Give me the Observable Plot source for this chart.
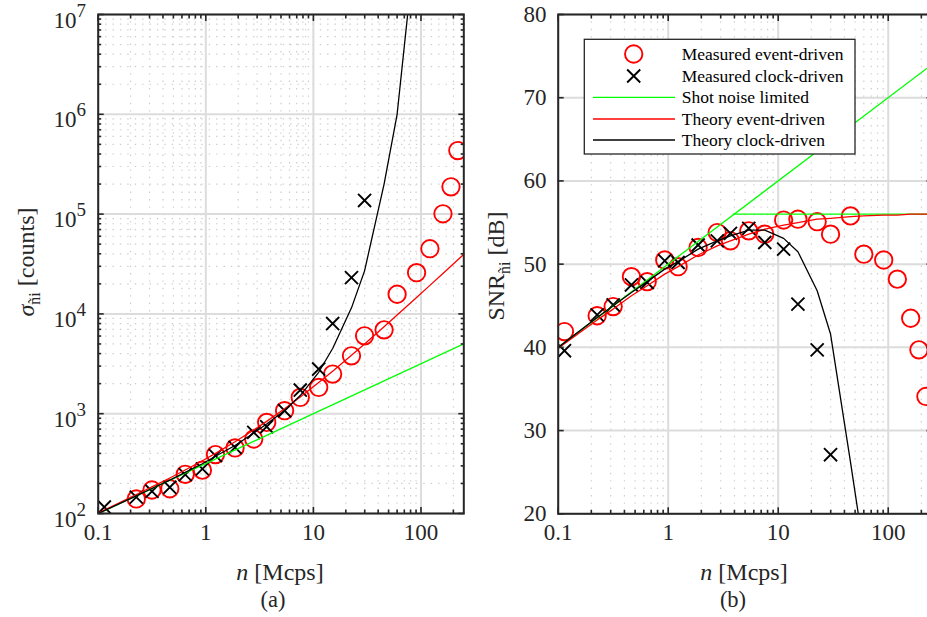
<!DOCTYPE html>
<html><head><meta charset="utf-8">
<script src="https://cdn.jsdelivr.net/npm/d3@7"></script>
<script src="https://cdn.jsdelivr.net/npm/@observablehq/plot@0.6"></script>
<style>
html,body{margin:0;padding:0;background:#fff;}
#fig{position:relative;width:927px;height:617px;overflow:hidden;background:#fff;}
#fig svg{position:absolute;top:0;}
</style></head><body><div id="fig"></div>
<script>
// ---------- data ----------
const nMeas = [0.114, 0.226, 0.316, 0.463, 0.644, 0.93, 1.23, 1.87, 2.79, 3.68, 5.4, 7.55, 11.2, 15.1, 22.6, 29.9, 45.4, 60, 91, 121, 160, 190, 220];
const sigmaEvent = [null, 140, 172, 177, 247, 272, 389, 454, 558, 818, 1072, 1455, 1833, 2495, 3802, 6026, 6918, 15740, 25900, 45000, 100700, 187600, 433000];
const snrEvent = [41.9, 43.8, 44.9, 48.5, 47.9, 50.5, 49.7, 52.0, 53.8, 52.8, 54.0, 53.6, 55.3, 55.4, 55.1, 53.6, 55.8, 51.2, 50.5, 48.2, 43.5, 39.7, 34.1];
const nClock = [0.114, 0.226, 0.316, 0.463, 0.644, 0.93, 1.23, 1.87, 2.79, 3.68, 5.4, 7.55, 11.2, 15.1, 22.6, 29.9];
const sigmaClock = [116, 146, 167, 183, 245, 280, 380, 460, 650, 741, 1072, 1726, 2800, 8000, 23080, 137000];
const snrClock = [39.6, 43.9, 45.1, 47.5, 47.8, 50.4, 50.2, 52.3, 52.8, 53.7, 54.3, 52.6, 51.8, 45.2, 39.7, 27.1];

const nTheory = [0.1, 0.226, 0.316, 0.463, 0.644, 0.93, 1.23, 1.87, 2.79, 3.68, 5.4, 7.55, 11.2, 15.1, 22.6, 29.9, 45.4, 60, 91, 121, 160, 250];
const sigmaTheoryEvent = [101, 155, 185, 227, 273, 338, 400, 523, 686, 838, 1122, 1470, 2052, 2670, 3854, 5003, 7440, 9733, 14600, 19310, 25440, 39570];
const snrTheoryEvent = [39.9, 43.3, 44.6, 46.2, 47.4, 48.8, 49.7, 51.1, 52.2, 52.8, 53.6, 54.2, 54.7, 55.0, 55.4, 55.5, 55.7, 55.8, 55.9, 55.9, 56.0, 56.0];
const nTheoryClock = [0.1, 0.226, 0.316, 0.463, 0.644, 0.93, 1.23, 1.87, 2.79, 3.68, 5.4, 7.55, 11.2, 15.1, 22.6, 29.9, 45.4, 60, 91];
const sigmaTheoryClock = [100, 150, 178, 216, 258, 315, 375, 480, 640, 790, 1075, 1520, 2600, 4500, 11500, 27000, 200000, 1000000, 70000000];
const snrTheoryClock = [40.0, 43.6, 45.0, 46.6, 47.9, 49.4, 50.3, 51.8, 52.8, 53.4, 54.1, 54.1, 53.1, 51.5, 46.8, 41.6, 26.2, 15.6, 5.0];

const nShot = [0.1, 250];
const sigmaShot = [100, 5000];
const snrShot = [40, 74];
const nShotLimit = [3.9, 250];
const snrShotLimit = [56.0, 56.0];

const xMajor = [0.1, 1, 10, 100];
const xTickLabels = ["0.1", "1", "10", "100"];
const xMinor = [0.2,0.3,0.4,0.5,0.6,0.7,0.8,0.9, 2,3,4,5,6,7,8,9, 20,30,40,50,60,70,80,90, 200];
const yMajorA = [1e2, 1e3, 1e4, 1e5, 1e6, 1e7];
const yExpA = ["2", "3", "4", "5", "6", "7"];
const yMinorA = [1e2, 1e3, 1e4, 1e5, 1e6].flatMap(d => [2,3,4,5,6,7,8,9].map(k => k * d));
const yTicksB = [20, 30, 40, 50, 60, 70, 80];

const legendLabels = ["Measured event-driven", "Measured clock-driven", "Shot noise limited", "Theory event-driven", "Theory clock-driven"];

// ---------- tables ----------
const evA = nMeas.map((n, i) => ({n, v: sigmaEvent[i]})).filter(d => d.v != null);
const ckA = nClock.map((n, i) => ({n, v: sigmaClock[i]}));
const evB = nMeas.map((n, i) => ({n, v: snrEvent[i]}));
const ckB = nClock.map((n, i) => ({n, v: snrClock[i]}));
const thEvA = nTheory.map((n, i) => ({n, v: sigmaTheoryEvent[i]}));
const thEvB = nTheory.map((n, i) => ({n, v: snrTheoryEvent[i]}));
const thCkA = nTheoryClock.map((n, i) => ({n, v: sigmaTheoryClock[i]}));
const thCkB = nTheoryClock.map((n, i) => ({n, v: snrTheoryClock[i]}));
const shotA = nShot.map((n, i) => ({n, v: sigmaShot[i]}));
const shotB = nShot.map((n, i) => ({n, v: snrShot[i]}));
const shotLimB = nShotLimit.map((n, i) => ({n, v: snrShotLimit[i]}));

const FONT = "Liberation Serif, Times New Roman, serif";
const AX = "#262626";
const RED = "#ff0000", GREEN = "#00ff00";

function commonMarks(yMinor, yMajor) {
  const m = [];
  m.push(Plot.ruleX(xMinor, {x: d => d, stroke: "#cdcdcd", strokeWidth: 1.2, strokeDasharray: "1.4,6"}));
  if (yMinor) m.push(Plot.ruleY(yMinor, {y: d => d, stroke: "#cdcdcd", strokeWidth: 1.2, strokeDasharray: "1.4,6"}));
  m.push(Plot.ruleX(xMajor, {x: d => d, stroke: "#dcdcdc", strokeWidth: 2}));
  m.push(Plot.ruleY(yMajor, {y: d => d, stroke: "#dcdcdc", strokeWidth: 2}));
  return m;
}
function tickMarks(yMinor, yMajor) {
  const s = {stroke: AX, strokeWidth: 1.6, fill: "none", label: null};
  const m = [
    Plot.axisX(xMajor, {...s, anchor: "bottom", tickSize: 6, dy: -6}),
    Plot.axisX(xMinor, {...s, anchor: "bottom", tickSize: 3.5, dy: -3.5}),
    Plot.axisX(xMajor, {...s, anchor: "top", tickSize: 6, dy: 6}),
    Plot.axisX(xMinor, {...s, anchor: "top", tickSize: 3.5, dy: 3.5}),
    Plot.axisY(yMajor, {...s, anchor: "left", tickSize: 6, dx: 6}),
    Plot.axisY(yMajor, {...s, anchor: "right", tickSize: 6, dx: -6})
  ];
  if (yMinor) {
    m.push(Plot.axisY(yMinor, {...s, anchor: "left", tickSize: 3.5, dx: 3.5}));
    m.push(Plot.axisY(yMinor, {...s, anchor: "right", tickSize: 3.5, dx: -3.5}));
  }
  return m;
}
function dataMarks(ev, ck, shot, shotLim, thEv, thCk) {
  const m = [
    Plot.dot(ev, {x: "n", y: "v", r: 8.7, stroke: RED, strokeWidth: 1.9, fill: "none", clip: true}),
    Plot.dot(ck, {x: "n", y: "v", symbol: "times", r: 6, stroke: "#000", strokeWidth: 1.9, clip: true}),
    Plot.line(shot, {x: "n", y: "v", stroke: GREEN, strokeWidth: 1.3, clip: true})
  ];
  if (shotLim) m.push(Plot.line(shotLim, {x: "n", y: "v", stroke: GREEN, strokeWidth: 1.3, clip: true}));
  m.push(Plot.line(thEv, {x: "n", y: "v", stroke: RED, strokeWidth: 1.3, clip: true}));
  m.push(Plot.line(thCk, {x: "n", y: "v", stroke: "#000", strokeWidth: 1.3, clip: true}));
  return m;
}
const xLabels = Plot.text(xMajor, {x: d => d, text: (d, i) => xTickLabels[i], frameAnchor: "bottom", dy: 26.5, fontSize: 23, fontFamily: FONT, fill: AX});

// ---------- panel (a) ----------
const plotA = Plot.plot({
  width: 470, height: 617,
  marginLeft: 97.7, marginRight: 6.7, marginTop: 14, marginBottom: 104,
  x: {type: "log", domain: [0.1, 250]},
  y: {type: "log", domain: [100, 1e7]},
  style: {background: "transparent", fontFamily: FONT},
  marks: [
    ...commonMarks(yMinorA, yMajorA),
    ...dataMarks(evA, ckA, shotA, null, thEvA, thCkA),
    ...tickMarks(yMinorA, yMajorA),
    Plot.frame({stroke: AX, strokeWidth: 2}),
    xLabels
  ]
});

// ---------- panel (b) ----------
const plotB = Plot.plot({
  width: 480, height: 617,
  marginLeft: 97.7, marginRight: 8.5, marginTop: 14, marginBottom: 103.7,
  x: {type: "log", domain: [0.1, 250]},
  y: {domain: [20, 80]},
  style: {background: "transparent", fontFamily: FONT},
  marks: [
    ...commonMarks(null, yTicksB),
    ...dataMarks(evB, ckB, shotB, shotLimB, thEvB, thCkB),
    ...tickMarks(null, yTicksB),
    Plot.frame({stroke: AX, strokeWidth: 2}),
    xLabels,
    Plot.text(yTicksB, {y: d => d, text: d => String(d), frameAnchor: "left", dx: -11.7, textAnchor: "end", fontSize: 23, fontFamily: FONT, fill: AX})
  ]
});

const fig = document.getElementById("fig");
plotA.style.left = "0px";
plotB.style.left = "460px";
fig.appendChild(plotA);
fig.appendChild(plotB);

// y tick labels with superscripts on panel (a)
const yA = plotA.scale("y");
const gA = d3.select(plotA).append("g").attr("font-family", FONT).attr("fill", AX);
yMajorA.forEach((v, i) => {
  const t = gA.append("text").attr("x", 86).attr("y", yA.apply(v) + 13.5).attr("text-anchor", "end").attr("font-size", 23);
  t.append("tspan").text("10");
  t.append("tspan").attr("font-size", 19).attr("dy", -11).text(yExpA[i]);
});

function axisTitles(svg, cx, ylabX, ylabY, main, unit, mainItalic) {
  const g = d3.select(svg).append("g").attr("font-family", FONT).attr("fill", AX);
  const t = g.append("text").attr("x", cx).attr("y", 580).attr("text-anchor", "middle").attr("font-size", 24);
  t.append("tspan").attr("font-style", "italic").text("n");
  t.append("tspan").text(" [Mcps]");
  const yl = g.append("text").attr("transform", `translate(${ylabX},${ylabY}) rotate(-90)`).attr("text-anchor", "middle").attr("font-size", 24);
  yl.append("tspan").attr("font-style", mainItalic ? "italic" : "normal").text(main);
  yl.append("tspan").attr("font-size", 16).attr("dy", 6).text("ñi");
  yl.append("tspan").attr("dy", -6).text(" " + unit);
  return g;
}
const gTa = axisTitles(plotA, 280, 34, 262, "σ", "[counts]", true);
gTa.append("text").attr("x", 273).attr("y", 607).attr("text-anchor", "middle").attr("font-size", 22.5).text("(a)");
const gTb = axisTitles(plotB, 284, 44, 266, "SNR", "[dB]", false);
gTb.append("text").attr("x", 273).attr("y", 607).attr("text-anchor", "middle").attr("font-size", 22.5).text("(b)");

// legend on panel (b)
const lg = d3.select(plotB).append("g").attr("font-family", FONT).attr("text-anchor", "start");
lg.append("rect").attr("x", 124.3).attr("y", 39.3).attr("width", 270.7).attr("height", 114.7)
  .attr("fill", "#fff").attr("stroke", AX).attr("stroke-width", 1.3);
const rowY = [54, 76, 97.3, 119, 140];
lg.append("circle").attr("cx", 173.7).attr("cy", rowY[0]).attr("r", 8.7).attr("fill", "none").attr("stroke", RED).attr("stroke-width", 1.9);
lg.append("path").attr("d", d3.symbol(d3.symbolTimes, Math.PI * 36)()).attr("transform", `translate(173.7,${rowY[1]})`).attr("stroke", "#000").attr("stroke-width", 1.9).attr("fill", "none");
[GREEN, RED, "#000"].forEach((c, i) => {
  lg.append("line").attr("x1", 133).attr("x2", 215).attr("y1", rowY[i + 2]).attr("y2", rowY[i + 2]).attr("stroke", c).attr("stroke-width", 1.3);
});
legendLabels.forEach((s, i) => {
  lg.append("text").attr("x", 221.7).attr("y", rowY[i] + 6).attr("font-size", 17.5).attr("fill", "#000").attr("text-anchor", "start").text(s);
});
</script></body></html>
